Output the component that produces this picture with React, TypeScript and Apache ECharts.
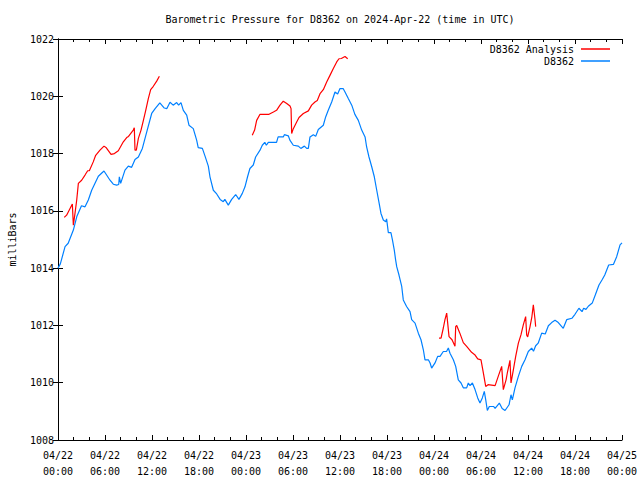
import React, { useEffect, useRef } from "react";
import * as echarts from "echarts";

// hours since 2024-04-22 00:00 UTC, pressure in mbar
const d8362: [number, number][] = [
  [0.0, 1014.0], [0.3, 1014.15], [0.9, 1014.75], [1.3, 1014.87], [1.96, 1015.33], [2.4, 1015.8],
  [3.0, 1016.18], [3.45, 1016.14], [3.87, 1016.38], [4.3, 1016.72], [5.15, 1017.21], [5.87, 1017.39],
  [6.64, 1017.07], [7.06, 1016.93], [7.49, 1016.9], [7.75, 1016.92], [7.83, 1017.19], [8.0, 1016.96],
  [8.55, 1017.42], [8.98, 1017.56], [9.4, 1017.52], [9.83, 1017.79], [10.26, 1017.88], [10.77, 1018.18],
  [11.33, 1018.76], [11.96, 1019.4], [12.4, 1019.57], [13.0, 1019.77], [13.57, 1019.59], [13.9, 1019.57],
  [14.3, 1019.79], [14.7, 1019.69], [15.15, 1019.78], [15.4, 1019.69], [15.7, 1019.78], [16.0, 1019.51],
  [16.43, 1019.34], [16.72, 1018.99], [17.27, 1018.87], [17.7, 1018.47], [17.9, 1018.21], [18.43, 1018.18],
  [18.77, 1017.91], [19.19, 1017.56], [19.4, 1017.19], [19.83, 1016.72], [20.26, 1016.59], [20.7, 1016.4],
  [21.1, 1016.32], [21.3, 1016.4], [21.74, 1016.2], [22.17, 1016.4], [22.68, 1016.57], [23.1, 1016.4],
  [23.53, 1016.61], [23.87, 1016.84], [24.2, 1017.19], [24.5, 1017.48], [24.93, 1017.6], [25.23, 1017.88],
  [25.79, 1018.12], [26.08, 1018.29], [26.4, 1018.39], [26.6, 1018.29], [26.85, 1018.39], [27.9, 1018.39],
  [28.1, 1018.58], [28.76, 1018.58], [28.9, 1018.66], [29.4, 1018.62], [29.6, 1018.47], [30.04, 1018.29],
  [30.68, 1018.26], [31.0, 1018.18], [31.45, 1018.26], [31.75, 1018.18], [31.96, 1018.18], [32.17, 1018.58],
  [32.6, 1018.66], [32.9, 1018.6], [33.23, 1018.84], [33.87, 1018.99], [34.17, 1019.28], [34.5, 1019.51],
  [34.94, 1019.8], [35.36, 1020.15], [35.7, 1020.08], [36.0, 1020.27], [36.4, 1020.27], [36.64, 1020.15],
  [37.06, 1019.92], [37.5, 1019.69], [37.9, 1019.37], [38.34, 1019.16], [38.77, 1018.82], [39.2, 1018.58],
  [39.4, 1018.23], [39.7, 1017.88], [40.05, 1017.54], [40.38, 1017.19], [40.69, 1016.72], [41.0, 1016.26],
  [41.23, 1015.91], [41.53, 1015.68], [41.84, 1015.62], [41.95, 1015.72], [42.17, 1015.24], [42.5, 1015.24],
  [42.7, 1014.98], [42.93, 1014.63], [43.1, 1014.29], [43.24, 1014.05], [43.53, 1013.76], [43.88, 1013.36],
  [44.08, 1012.89], [44.5, 1012.66], [44.94, 1012.48], [45.15, 1012.2], [45.58, 1012.08], [46.0, 1011.73],
  [46.34, 1011.5], [46.64, 1011.15], [46.85, 1010.8], [47.28, 1010.8], [47.5, 1010.69], [47.7, 1010.51],
  [48.13, 1010.69], [48.47, 1010.92], [48.77, 1010.92], [49.19, 1011.09], [49.6, 1011.09], [49.83, 1011.21],
  [50.04, 1011.03], [50.47, 1010.8], [50.77, 1010.57], [51.1, 1010.1], [51.45, 1009.99], [51.74, 1009.82],
  [52.17, 1009.82], [52.38, 1009.99], [52.6, 1009.9], [52.9, 1009.99], [53.24, 1009.76], [53.58, 1009.47],
  [53.87, 1009.29], [54.17, 1009.47], [54.42, 1009.7], [54.6, 1009.41], [54.81, 1009.03], [55.06, 1009.17],
  [55.6, 1009.17], [55.8, 1009.1], [56.34, 1009.29], [56.7, 1009.1], [57.07, 1009.03], [57.58, 1009.23],
  [57.83, 1009.58], [58.0, 1009.4], [58.34, 1009.82], [58.77, 1010.22], [59.2, 1010.57], [59.62, 1010.8],
  [60.04, 1011.09], [60.47, 1011.21], [60.7, 1011.1], [60.98, 1011.29], [61.3, 1011.38], [61.75, 1011.73],
  [62.2, 1011.7], [62.6, 1011.99], [63.02, 1012.1], [63.45, 1012.18], [63.87, 1012.1], [64.5, 1011.9],
  [64.94, 1012.2], [65.6, 1012.25], [66.0, 1012.39], [66.5, 1012.6], [66.9, 1012.48], [67.1, 1012.6],
  [67.4, 1012.56], [67.7, 1012.67], [68.2, 1012.78], [68.6, 1013.07], [69.06, 1013.41], [69.5, 1013.61],
  [69.8, 1013.76], [70.3, 1014.11], [70.9, 1014.13], [71.32, 1014.4], [71.75, 1014.81], [72.0, 1014.88],
];

const analysisRun1: [number, number][] = [
  [0.8, 1015.77], [1.1, 1015.85], [1.83, 1016.24], [1.96, 1015.5], [2.17, 1015.91], [2.39, 1016.38],
  [2.6, 1016.96], [3.02, 1017.07], [3.45, 1017.25], [3.79, 1017.4], [4.0, 1017.4], [4.5, 1017.71],
  [4.81, 1017.94], [5.36, 1018.12], [5.87, 1018.26], [6.17, 1018.2], [6.77, 1017.97], [7.2, 1018.0],
  [7.7, 1018.1], [8.34, 1018.41], [8.77, 1018.56], [9.0, 1018.6], [9.61, 1018.82], [9.74, 1018.9],
  [9.83, 1018.12], [10.0, 1018.12], [10.26, 1018.53], [10.6, 1018.82], [10.9, 1019.16], [11.2, 1019.51],
  [11.53, 1019.92], [11.83, 1020.23], [12.17, 1020.35], [12.6, 1020.53], [12.94, 1020.7],
];

const analysisRun2: [number, number][] = [
  [24.8, 1018.64], [25.1, 1018.82], [25.36, 1019.16], [25.79, 1019.37], [26.94, 1019.37], [27.5, 1019.45],
  [27.9, 1019.51], [28.34, 1019.69], [28.76, 1019.83], [29.2, 1019.75], [29.62, 1019.66], [29.75, 1019.57],
  [29.83, 1018.7], [30.04, 1018.87], [30.47, 1019.1], [30.77, 1019.26], [31.32, 1019.4], [31.96, 1019.49],
  [32.38, 1019.69], [32.8, 1019.8], [33.1, 1019.85], [33.45, 1020.09], [33.87, 1020.23], [34.3, 1020.5],
  [34.72, 1020.73], [35.15, 1020.97], [35.58, 1021.2], [35.87, 1021.31], [36.17, 1021.32], [36.64, 1021.39],
  [36.98, 1021.31],
];

const analysisRun3: [number, number][] = [
  [48.64, 1011.56], [48.9, 1011.56], [49.19, 1011.91], [49.4, 1012.2], [49.62, 1012.43], [49.92, 1011.61],
  [50.3, 1011.5], [50.68, 1011.27], [50.77, 1011.96], [50.9, 1012.0], [51.3, 1011.73], [51.74, 1011.4],
  [52.17, 1011.27], [52.8, 1011.06], [53.2, 1010.98], [53.58, 1010.83], [54.0, 1010.8], [54.3, 1010.34],
  [54.6, 1009.87], [54.9, 1009.93], [55.8, 1009.9], [56.2, 1010.22], [56.64, 1010.57], [56.85, 1009.76],
  [57.2, 1010.1], [57.4, 1010.4], [57.7, 1010.78], [57.83, 1009.99], [58.13, 1010.45], [58.43, 1010.92],
  [58.77, 1011.38], [59.1, 1011.67], [59.4, 1012.02], [59.7, 1012.31], [59.83, 1011.67], [59.96, 1011.6],
  [60.26, 1011.96], [60.5, 1012.31], [60.68, 1012.72], [60.9, 1012.2], [60.98, 1011.96],
];

const xTickLabels = [
  "04/22\n00:00", "04/22\n06:00", "04/22\n12:00", "04/22\n18:00",
  "04/23\n00:00", "04/23\n06:00", "04/23\n12:00", "04/23\n18:00",
  "04/24\n00:00", "04/24\n06:00", "04/24\n12:00", "04/24\n18:00",
  "04/25\n00:00",
];

const FONT = "DejaVu Sans Mono";
const RED = "#ff0000";
const BLUE = "#0080ff";

export default function App() {
  const ref = useRef<HTMLDivElement>(null);
  useEffect(() => {
    if (!ref.current) return;
    const chart = echarts.init(ref.current, undefined, { renderer: "svg" });
    const tickCommon = {
      axisLine: { show: true, lineStyle: { color: "#000", width: 1 } },
      axisTick: { show: true, inside: true, length: 5, lineStyle: { color: "#000" } },
      splitLine: { show: false },
    };
    const xCommon = {
      type: "value" as const,
      min: 0,
      max: 72,
      interval: 6,
      ...tickCommon,
      minorTick: { show: true, splitNumber: 3, length: 3, lineStyle: { color: "#000" } },
      minorSplitLine: { show: false },
    };
    const yCommon = {
      type: "value" as const,
      min: 1008,
      max: 1022,
      interval: 2,
      ...tickCommon,
    };
    const lineSeries = (name: string, data: [number, number][], color: string) => ({
      type: "line" as const,
      name,
      data,
      showSymbol: false,
      symbol: "none",
      lineStyle: { color, width: 1.2 },
      itemStyle: { color },
      xAxisIndex: 0,
      yAxisIndex: 0,
    });
    const legendCommon = {
      orient: "horizontal" as const,
      right: 30,
      padding: 0,
      align: "right" as const,
      icon: "rect",
      itemWidth: 29,
      itemHeight: 1.5,
      textStyle: { fontFamily: FONT, fontSize: 10, color: "#000", padding: [0, 2, 0, 0] },
      selectedMode: false,
    };
    chart.setOption({
      animation: false,
      backgroundColor: "#fff",
      title: {
        text: "Barometric Pressure for D8362 on 2024-Apr-22 (time in UTC)",
        left: 340,
        top: 14,
        textAlign: "center",
        padding: 0,
        textStyle: { fontFamily: FONT, fontSize: 10, fontWeight: "normal", color: "#000" },
      },
      legend: [
        { ...legendCommon, top: 44, data: [{ name: "D8362 Analysis", itemStyle: { color: RED } }] },
        { ...legendCommon, top: 56, data: [{ name: "D8362", itemStyle: { color: BLUE } }] },
      ],
      grid: { left: 58, right: 18, top: 39, bottom: 40, containLabel: false, outerBoundsMode: "none" },
      xAxis: [
        {
          ...xCommon,
          position: "bottom",
          axisLabel: {
            fontFamily: FONT,
            fontSize: 10,
            color: "#000",
            lineHeight: 16,
            margin: 7,
            formatter: (v: number) => xTickLabels[Math.round(v / 6)] ?? "",
          },
        },
        { ...xCommon, position: "top", axisLabel: { show: false } },
      ],
      yAxis: [
        {
          ...yCommon,
          position: "left",
          name: "milliBars",
          nameLocation: "middle",
          nameRotate: 90,
          nameGap: 41,
          nameTextStyle: { fontFamily: FONT, fontSize: 10, color: "#000" },
          axisLabel: {
            fontFamily: FONT,
            fontSize: 10,
            color: "#000",
            margin: 4,
            formatter: (v: number) => String(v),
          },
        },
        { ...yCommon, position: "right", axisLabel: { show: false } },
      ],
      series: [
        lineSeries("D8362 Analysis", analysisRun1, RED),
        lineSeries("D8362 Analysis", analysisRun2, RED),
        lineSeries("D8362 Analysis", analysisRun3, RED),
        lineSeries("D8362", d8362, BLUE),
      ],
    });
    return () => chart.dispose();
  }, []);
  return (
    <div
      ref={ref}
      style={{ position: "fixed", left: 0, top: 0, width: 640, height: 480, background: "#fff" }}
    />
  );
}
